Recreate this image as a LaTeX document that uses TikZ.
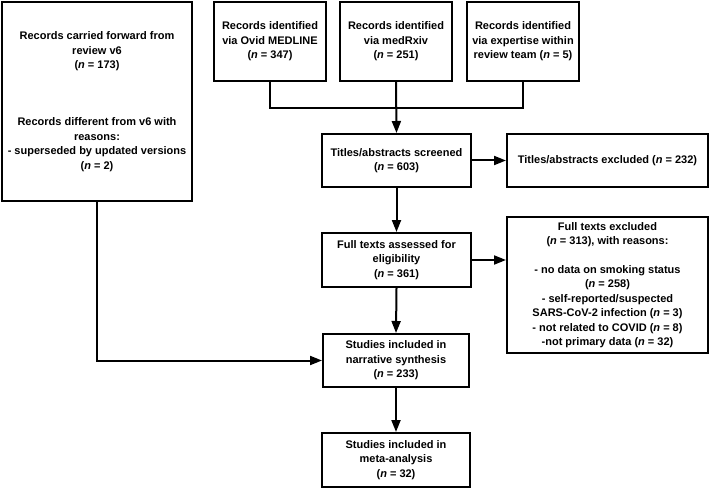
\documentclass[tikz,border=0pt]{standalone}
\usepackage{fontspec}
\setmainfont{Liberation Sans}
\usetikzlibrary{arrows.meta}
\newcommand{\nn}{\textit{n}}
\begin{document}
\begin{tikzpicture}[x=1pt,y=-1pt,
  box/.style={draw, line width=2pt, inner sep=0pt, align=center,
    font=\fontsize{11}{14.4}\selectfont\bfseries},
  conn/.style={line width=2pt},
  arr/.style={conn, -{Triangle[length=12pt,width=9pt]}}]
\useasboundingbox (0,0) rectangle (709,489);
\node[box, minimum width=190pt, minimum height=199pt] (left) at (97,101.5)
  {Records carried forward from\\review v6\\(\nn{} = 173)\\[43pt]Records different from v6 with\\reasons:\\- superseded by updated versions\\(\nn{} = 2)};
\node[box, minimum width=112pt, minimum height=79pt] (med) at (270,41.5)
  {Records identified\\via Ovid MEDLINE\\(\nn{} = 347)};
\node[box, minimum width=112pt, minimum height=79pt] (rxiv) at (396,41.5)
  {Records identified\\via medRxiv\\(\nn{} = 251)};
\node[box, minimum width=112pt, minimum height=79pt] (exp) at (523,41.5)
  {Records identified\\via expertise within\\review team (\nn{} = 5)};
\node[box, minimum width=149pt, minimum height=53pt] (tit) at (396.5,160.5)
  {Titles/abstracts screened\\(\nn{} = 603)};
\node[box, minimum width=201pt, minimum height=53pt] (titex) at (607.5,160.5)
  {Titles/abstracts excluded (\nn{} = 232)};
\node[box, minimum width=149pt, minimum height=54pt] (full) at (396.5,260)
  {Full texts assessed for\\eligibility\\(\nn{} = 361)};
\node[box, minimum width=201pt, minimum height=136pt] (fullex) at (607.5,285)
  {Full texts excluded\\(\nn{} = 313), with reasons:\\[14.4pt]- no data on smoking status\\(\nn{} = 258)\\- self-reported/suspected\\SARS-CoV-2 infection (\nn{} = 3)\\- not related to COVID (\nn{} = 8)\\-not primary data (\nn{} = 32)};
\node[box, minimum width=146pt, minimum height=53pt] (narr) at (396,360.5)
  {Studies included in\\narrative synthesis\\(\nn{} = 233)};
\node[box, minimum width=148pt, minimum height=54pt] (meta) at (396,460)
  {Studies included in\\meta-analysis\\(\nn{} = 32)};
\coordinate (j) at (396,108);
\draw[conn] (med.south) |- (j) -| (exp.south);
\draw[arr] (rxiv.south) -- (tit.north);
\draw[arr] (tit.east) -- (titex.west);
\draw[arr] (tit.south) -- (full.north);
\draw[arr] (full.east) -- (full.east -| fullex.west);
\draw[arr] (full.south) -- (narr.north);
\draw[arr] (left.south) |- (narr.west);
\draw[arr] (narr.south) -- (meta.north);
\end{tikzpicture}
\end{document}
